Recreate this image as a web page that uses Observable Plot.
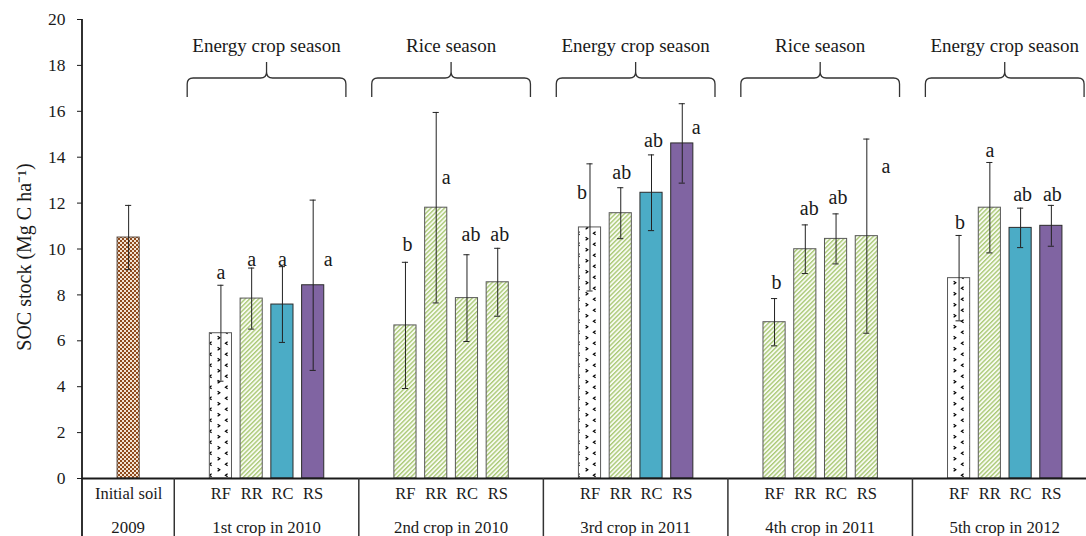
<!DOCTYPE html>
<html>
<head>
<meta charset="utf-8">
<script src="https://cdn.jsdelivr.net/npm/d3@7"></script>
<script src="https://cdn.jsdelivr.net/npm/@observablehq/plot@0.6"></script>
<style>
  html, body { margin: 0; padding: 0; background: #fff; overflow: hidden; }
  #chart svg { display: block; }
</style>
</head>
<body>
<div id="chart"></div>
<script>
// ---------------- data ----------------
const initialLabel = "Initial soil";
const periodLabels = ["2009", "1st crop in 2010", "2nd crop in 2010", "3rd crop in 2011", "4th crop in 2011", "5th crop in 2012"];
const seasons = [null, "Energy crop season", "Rice season", "Energy crop season", "Rice season", "Energy crop season"];
const treatments = ["RF", "RR", "RC", "RS"];
const initialMean = 10.5;
const initialError = 1.4;
// SOC stock (Mg C ha-1), one row per crop period, columns RF RR RC RS
const socMeans = [
  [6.33, 7.84, 7.58, 8.42],
  [6.67, 11.80, 7.86, 8.55],
  [10.94, 11.56, 12.45, 14.60],
  [6.81, 9.99, 10.44, 10.56],
  [8.73, 11.80, 10.92, 11.01]
];
const socErrors = [
  [2.09, 1.33, 1.65, 3.71],
  [2.75, 4.15, 1.89, 1.48],
  [2.77, 1.11, 1.65, 1.73],
  [1.03, 1.06, 1.09, 4.23],
  [1.86, 1.97, 0.86, 0.89]
];
const letters = [
  ["a", "a", "a", "a"],
  ["b", "a", "ab", "ab"],
  ["b", "ab", "ab", "a"],
  ["b", "ab", "ab", "a"],
  ["b", "a", "ab", "ab"]
];
const yTicks = [0, 2, 4, 6, 8, 10, 12, 14, 16, 18, 20];

// ---------------- layout (annotation placement) ----------------
const letterBaseline = [
  [8.71, 9.24, 9.24, 9.24],
  [9.90, 12.85, 10.34, 10.37],
  [12.20, 13.03, 14.44, 15.02],
  [8.26, 11.50, 11.98, 13.33],
  [10.88, 14.03, 12.11, 12.11]
];
const letterShift = [
  [0, 0, 0, 15],
  [2, 10, 4, 2],
  [-8, 1, 2, 14],
  [2, 4, 2, 19],
  [1, 0, 2, 1]
];
const braceLevels = {end: 16.6, bar: 17.43, tip: 18.13, label: 18.56};

// ---------------- build tables ----------------
const slotDomain = ["init-a", "init", "init-b"];
const groupSpans = [{first: "init-a", last: "init-b", period: periodLabels[0], season: seasons[0]}];
for (let g = 1; g < periodLabels.length; ++g) {
  slotDomain.push(`g${g}-a`, ...treatments.map(t => `g${g}-${t}`), `g${g}-b`);
  groupSpans.push({first: `g${g}-a`, last: `g${g}-b`, period: periodLabels[g], season: seasons[g]});
}

const fills = {
  initial: "url(#pat-initial)",
  divot: "url(#pat-divot)",
  stripes: "url(#pat-stripes)",
  teal: "#4bacc6",
  purple: "#8064a2"
};
const strokes = {initial: "#5a4a40", divot: "#595959", stripes: "#595959", teal: "#2b2b2b", purple: "#2b2b2b"};

const bars = [{slot: "init", mean: initialMean, err: initialError, style: "initial", letter: null}];
socMeans.forEach((row, gi) => {
  const g = gi + 1;
  const rice = seasons[g] === "Rice season";
  row.forEach((m, ti) => {
    const t = treatments[ti];
    const style = rice ? "stripes" : ({RF: "divot", RR: "stripes", RC: "teal", RS: "purple"})[t];
    bars.push({
      slot: `g${g}-${t}`, treatment: t, mean: m, err: socErrors[gi][ti], style,
      letter: letters[gi][ti], letterY: letterBaseline[gi][ti], letterDx: letterShift[gi][ti]
    });
  });
});

const rowOne = [{slot: "init", text: initialLabel}];
for (let g = 1; g < periodLabels.length; ++g) treatments.forEach(t => rowOne.push({slot: `g${g}-${t}`, text: t}));

const serif = "Liberation Serif, Times New Roman, Times, serif";
const ink = "#1a1a1a";

// decorations: braces, season labels, table dividers and period labels, using Plot's scales
function groupDecor(index, scales, values, dims) {
  const x = scales.x, y = scales.y;
  const bw = x.bandwidth();
  const step = x.step();
  const gap = (step - bw) / 2;
  const g = d3.create("svg:g").attr("font-family", serif).attr("fill", ink);
  const y0 = y(0);
  const bottom = dims.height;
  g.append("line")
    .attr("x1", dims.marginLeft).attr("x2", dims.marginLeft)
    .attr("y1", y(20)).attr("y2", bottom)
    .attr("stroke", ink).attr("stroke-width", 1.8);
  groupSpans.forEach((span, i) => {
    const L = x(span.first) - gap;
    const R = x(span.last) + bw + gap;
    const C = (L + R) / 2;
    if (i > 0) {
      g.append("line").attr("x1", L).attr("x2", L).attr("y1", y0).attr("y2", bottom)
        .attr("stroke", "#333").attr("stroke-width", 1.5);
    }
    g.append("text").attr("x", C).attr("y", y0 + 49).attr("dy", "0.35em")
      .attr("text-anchor", "middle").attr("font-size", 16.8).text(span.period);
    if (span.season) {
      const half = (R - L) * 0.43;
      const bl = C - half, br = C + half;
      const ye = y(braceLevels.end), yb = y(braceLevels.bar), yt = y(braceLevels.tip);
      const r = 6;
      const p = `M${bl},${ye} L${bl},${yb + r} Q${bl},${yb} ${bl + r},${yb} L${C - r},${yb} Q${C},${yb} ${C},${yb - r} L${C},${yt}` +
                ` M${C},${yt} L${C},${yb - r} Q${C},${yb} ${C + r},${yb} L${br - r},${yb} Q${br},${yb} ${br},${yb + r} L${br},${ye}`;
      g.append("path").attr("d", p).attr("fill", "none").attr("stroke", "#333").attr("stroke-width", 1.3);
      g.append("text").attr("x", C).attr("y", y(braceLevels.label))
        .attr("text-anchor", "middle").attr("font-size", 19).text(span.season);
    }
  });
  return g.node();
}

// one text mark per horizontal nudge of the significance letters
const lettered = bars.filter(d => d.letter);
const shifts = [...new Set(lettered.map(d => d.letterDx))];
const letterMarks = shifts.map(s => Plot.text(lettered.filter(d => d.letterDx === s), {
  x: "slot", y: "letterY", dx: s, text: "letter", lineAnchor: "bottom",
  fontSize: 20, fontFamily: serif, fill: ink
}));

const plot = Plot.plot({
  width: 1086,
  height: 536,
  marginLeft: 82,
  marginRight: -11,
  marginTop: 19,
  marginBottom: 58,
  style: {fontFamily: serif, fontSize: "16px", color: ink, background: "#fff"},
  x: {type: "band", domain: slotDomain, paddingInner: 0.28, paddingOuter: 0.14, round: false, axis: null},
  y: {domain: [0, 20], axis: null},
  color: {type: "identity"},
  marks: [
    Plot.barY(bars, {x: "slot", y: "mean", fill: d => fills[d.style], stroke: d => strokes[d.style], strokeWidth: 1}),
    Plot.axisY({ticks: yTicks, tickSize: 5, tickPadding: 12, label: null, fontSize: 17.5, fontFamily: serif, fill: ink, stroke: ink}),
    Plot.ruleY([0], {stroke: ink, strokeWidth: 2}),
    Plot.ruleX(bars, {x: "slot", y1: d => d.mean - d.err, y2: d => d.mean + d.err, stroke: "#222", strokeWidth: 1}),
    Plot.tickY(bars, {x: "slot", y: d => d.mean + d.err, stroke: "#222", strokeWidth: 1, insetLeft: 8, insetRight: 8}),
    Plot.tickY(bars, {x: "slot", y: d => d.mean - d.err, stroke: "#222", strokeWidth: 1, insetLeft: 8, insetRight: 8}),
    ...letterMarks,
    Plot.text(rowOne, {x: "slot", text: "text", frameAnchor: "bottom", dy: 20, fontSize: 16.5, fontFamily: serif, fill: ink}),
    Plot.text(["SOC stock (Mg C ha\u207B\u00B9)"], {frameAnchor: "left", textAnchor: "middle", dx: -58, dy: 8, rotate: -90, fontSize: 20, fontFamily: serif, fill: ink}),
    groupDecor
  ]
});

// fill patterns for the hatched bars
const defs = d3.create("svg:defs");
defs.html(`
  <pattern id="pat-initial" width="4" height="4" patternUnits="userSpaceOnUse">
    <rect width="4" height="4" fill="#f3e3d3"/>
    <rect width="2" height="2" fill="#8f4a1c"/>
    <rect x="2" y="2" width="2" height="2" fill="#8f4a1c"/>
  </pattern>
  <pattern id="pat-divot" width="16" height="11" patternUnits="userSpaceOnUse">
    <rect width="16" height="11" fill="#fff"/>
    <path d="M3.6,0.8 L1.4,2.3 L3.6,3.8" fill="none" stroke="#000" stroke-width="1.2"/>
    <path d="M9.6,6.3 L11.8,7.8 L9.6,9.3" fill="none" stroke="#000" stroke-width="1.2"/>
  </pattern>
  <pattern id="pat-stripes" width="3.2" height="3.2" patternUnits="userSpaceOnUse" patternTransform="rotate(45)">
    <rect width="3.2" height="3.2" fill="#f8fbf2"/>
    <line x1="0.7" y1="0" x2="0.7" y2="3.2" stroke="#a3c46a" stroke-width="1.25"/>
  </pattern>
`);
plot.insertBefore(defs.node(), plot.firstChild);
document.getElementById("chart").appendChild(plot);
</script>
</body>
</html>
